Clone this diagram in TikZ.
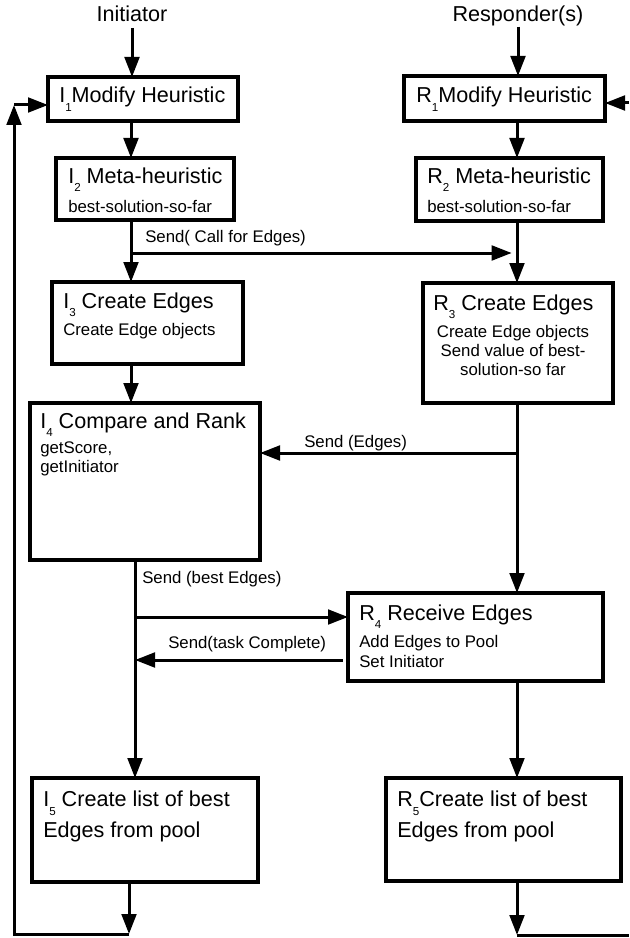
\documentclass[tikz,border=0pt]{standalone}
\usepackage{fontspec}
\setmainfont{Liberation Sans}
\usetikzlibrary{arrows.meta,positioning,calc}

\newcommand\idx[1]{\raisebox{-0.4em}{\fontsize{8.7}{9}\selectfont #1}}
\newcommand\ttl{\fontsize{16.2}{23.3}\selectfont}
\newcommand\sml{\fontsize{12.6}{14.3}\selectfont}

\tikzset{
  box/.style={draw, line width=2.6pt, inner sep=0pt, outer sep=0pt},
  head/.style={inner sep=0pt, anchor=base, font=\ttl},
  ttlt/.style={inner sep=0pt, anchor=base west, font=\ttl},
  subt/.style={inner sep=0pt, anchor=north west, align=left, font=\sml},
  msg/.style={inner sep=0pt, anchor=base west, font=\sml},
  flow/.style={line width=2.25pt, ->},
}

\begin{document}
\begin{tikzpicture}[x=0.75pt, y=-0.75pt, >={Triangle[length=15pt,width=11pt]}]
\useasboundingbox (0,0) rectangle (629,938);

% headers
\node[head] (init) at (132,22) {Initiator};
\node[head] (resp) at (518,22) {Responder(s)};

% columns
\coordinate (lx) at (131,0);
\coordinate (lx2) at (135,0);
\coordinate (rx) at (517,0);

% initiator side
\node[box, minimum width=142.5pt, minimum height=33pt] (i1) at (143,99) {};
\node[box, minimum width=133.5pt, minimum height=46.5pt] (i2) at (145,189) {};
\node[box, minimum width=143.25pt, minimum height=61.5pt] (i3) at (147.5,323) {};
\node[box, minimum width=172.5pt, minimum height=117.75pt] (i4) at (145,481.5) {};
\node[box, minimum width=169.5pt, minimum height=78pt] (i5) at (145,830) {};

\node[ttlt] (i1t) at (59,103) {I\idx{1}Modify Heuristic};
\node[ttlt] (i2t) at (68,183) {I\idx{2} Meta-heuristic};
\node[msg] (i2s) at (68,212) {best-solution-so-far};
\node[ttlt] (i3t) at (63,308) {I\idx{3} Create Edges};
\node[msg] (i3s) at (63,335) {Create Edge objects};
\node[ttlt] (i4t) at (40,428) {I\idx{4} Compare and Rank};
\node[subt] (i4s) at (40,441) {getScore,\\getInitiator};
\node[subt, font=\ttl] (i5t) at (43,790.5) {I\idx{5} Create list of best\\Edges from pool};

% responder side
\node[box, minimum width=150.75pt, minimum height=33.75pt] (r1) at (504.5,98.5) {};
\node[box, minimum width=140.25pt, minimum height=47.25pt] (r2) at (509.5,189.5) {};
\node[box, minimum width=142.5pt, minimum height=90pt] (r3) at (518,343) {};
\node[box, minimum width=191.25pt, minimum height=66pt] (r4) at (475.5,637) {};
\node[box, minimum width=176.25pt, minimum height=77.25pt] (r5) at (503.5,829.5) {};

\node[ttlt] (r1t) at (416,103) {R\idx{1}Modify Heuristic};
\node[ttlt] (r2t) at (427,183) {R\idx{2} Meta-heuristic};
\node[msg] (r2s) at (427,212) {best-solution-so-far};
\node[ttlt] (r3t) at (433,310) {R\idx{3} Create Edges};
\node[subt, anchor=north, align=center] (r3s) at (513,324.7) {Create Edge objects\\Send value of best-\\solution-so far};
\node[ttlt] (r4t) at (359,620) {R\idx{4} Receive Edges};
\node[subt] (r4s) at (359,635.5) {Add Edges to Pool\\Set Initiator};
\node[subt, font=\ttl] (r5t) at (397,790.5) {R\idx{5}Create list of best\\Edges from pool};

% flow, initiator
\draw[flow, shorten <=4pt] (init.south) -- (init.south |- i1.north);
\draw[flow] (i1.south -| lx) -- (i2.north -| lx);
\draw[flow] (i2.south -| lx) -- (i3.north -| lx);
\draw[flow] (i3.south -| lx) -- (i4.north -| lx);
\draw[flow] (i4.south -| lx2) -- (i5.north -| lx2);

% loop back, left
\coordinate (lb) at (129,934);
\coordinate (lfb) at (14,105);
\draw[flow] (i5.south -| lb) -- (lb);
\draw[flow] (lb) -| (lfb);
\draw[flow] (lfb) -- (lfb -| i1.west);

% flow, responder
\draw[flow] (resp.south) -- (resp.south |- r1.north);
\draw[flow] (r1.south -| rx) -- (r2.north -| rx);
\draw[flow] (r2.south -| rx) -- (r3.north -| rx);
\draw[flow] (r3.south -| rx) -- (r4.north -| rx);
\draw[flow] (r4.south -| rx) -- (r5.north -| rx);

% loop back, right
\coordinate (rb) at (517,935);
\coordinate (rbe) at (629,935);
\coordinate (rfb) at (629,103);
\draw[flow] (r5.south -| rb) -- (rb);
\draw[line width=2.25pt] (rb) -- (rbe);
\draw[flow] (rfb) -- (rfb -| r1.east);

% messages
\coordinate (call) at (131,253);
\draw[flow, shorten >=4pt] (call) -- (call -| rx);
\node[msg] (callt) at (145,242) {Send( Call for Edges)};

\coordinate (edg) at (517,453);
\draw[flow] (edg) -- (edg -| i4.east);
\node[msg] (edgt) at (304,447) {Send (Edges)};

\coordinate (best) at (135,617);
\draw[flow] (best) -- (best -| r4.west);
\node[msg] (bestt) at (142,583) {Send (best Edges)};

\coordinate (done) at (135,660);
\draw[flow, shorten <=4pt] (done -| r4.west) -- (done);
\node[msg] (donet) at (168,648) {Send(task Complete)};
\end{tikzpicture}
\end{document}
